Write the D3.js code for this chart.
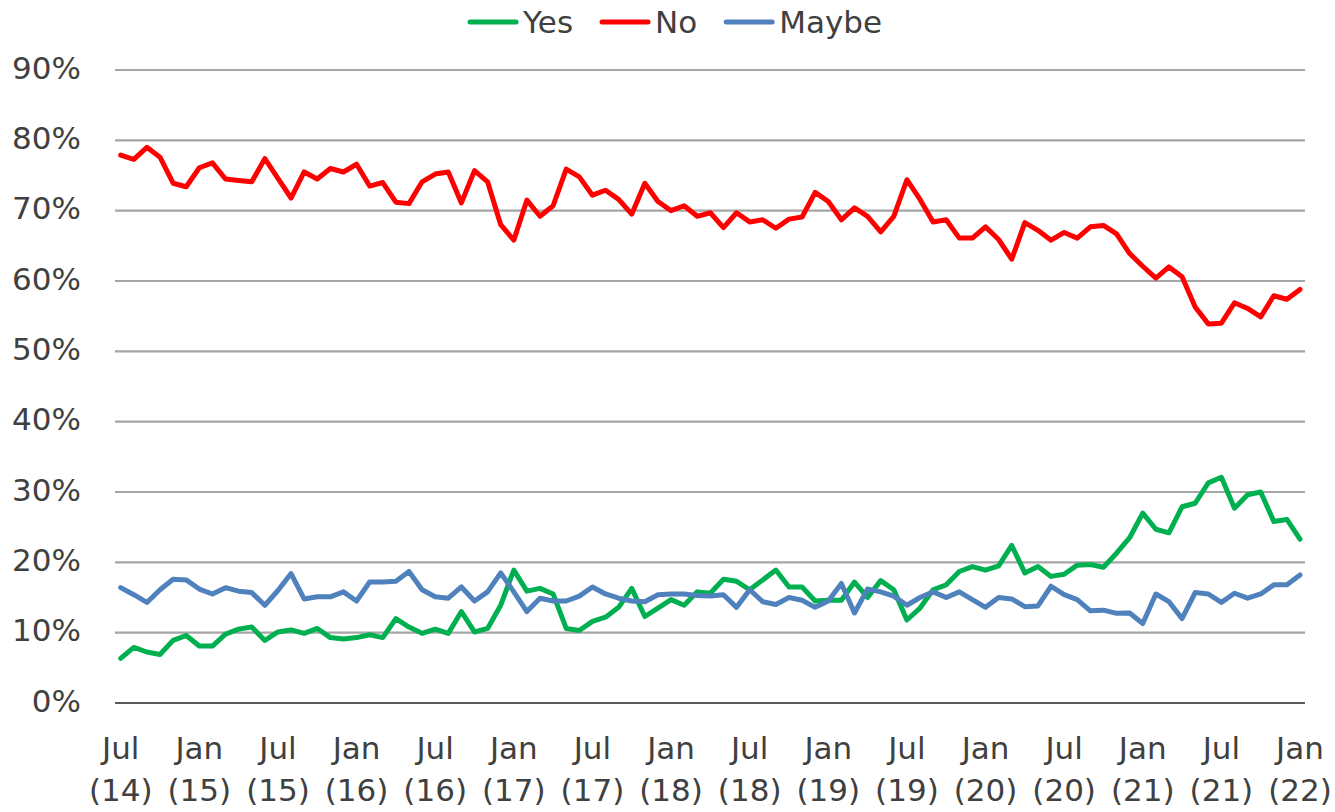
<!DOCTYPE html>
<html>
<head>
<meta charset="utf-8">
<script src="https://cdn.jsdelivr.net/npm/d3@7"></script>
<style>
  body { margin: 0; background: #fff; }
  text { font-family: "DejaVu Sans", Verdana, sans-serif; fill: #404040; }
</style>
</head>
<body>
<div id="chart"></div>
<script>
// monthly shares (%), Jul 2014 .. Jan 2022
var yes = [6.35, 7.9, 7.25, 6.9, 8.9, 9.6, 8.1, 8.1, 9.8, 10.5, 10.8, 8.9,
  10.1, 10.4, 9.9, 10.6, 9.3, 9.1, 9.3, 9.7, 9.3, 12.0, 10.8, 9.9,
  10.5, 9.9, 13.0, 10.1, 10.6, 13.9, 18.9, 15.9, 16.3, 15.5, 10.6, 10.3,
  11.6, 12.2, 13.6, 16.3, 12.3, 13.5, 14.7, 13.9, 15.8, 15.6, 17.6, 17.3,
  16.1, 17.5, 18.9, 16.5, 16.5, 14.5, 14.6, 14.6, 17.2, 15.0, 17.4, 16.1,
  11.8, 13.5, 16.1, 16.8, 18.7, 19.4, 18.9, 19.5, 22.4, 18.5, 19.4, 18.0,
  18.3, 19.6, 19.7, 19.3, 21.3, 23.5, 27.0, 24.7, 24.2, 27.9, 28.4, 31.3,
  32.1, 27.7, 29.6, 30.0, 25.8, 26.1, 23.3];

var no = [77.9, 77.3, 79.0, 77.6, 73.9, 73.4, 76.1, 76.8, 74.5, 74.3, 74.1, 77.4,
  74.6, 71.8, 75.5, 74.5, 76.0, 75.5, 76.6, 73.5, 74.0, 71.2, 71.0, 74.1,
  75.2, 75.5, 71.1, 75.7, 74.1, 68.0, 65.8, 71.5, 69.2, 70.7, 75.9, 74.8,
  72.2, 72.9, 71.6, 69.5, 73.9, 71.3, 70.0, 70.7, 69.2, 69.7, 67.6, 69.7,
  68.4, 68.7, 67.5, 68.8, 69.1, 72.6, 71.3, 68.7, 70.4, 69.2, 67.0, 69.2,
  74.4, 71.6, 68.4, 68.7, 66.1, 66.1, 67.7, 65.9, 63.1, 68.3, 67.2, 65.8,
  66.9, 66.1, 67.7, 67.9, 66.7, 63.9, 62.1, 60.4, 62.0, 60.6, 56.3, 53.9,
  54.0, 56.9, 56.1, 54.9, 57.9, 57.4, 58.8];

var maybe = [16.4, 15.4, 14.3, 16.1, 17.6, 17.5, 16.2, 15.5, 16.4, 15.9, 15.7, 13.9,
  16.0, 18.4, 14.8, 15.1, 15.1, 15.8, 14.5, 17.2, 17.2, 17.3, 18.7, 16.1,
  15.1, 14.9, 16.5, 14.5, 15.8, 18.5, 15.8, 13.0, 14.9, 14.5, 14.5, 15.2,
  16.5, 15.5, 14.9, 14.5, 14.4, 15.4, 15.5, 15.5, 15.3, 15.2, 15.4, 13.6,
  16.1, 14.4, 14.0, 15.0, 14.6, 13.6, 14.5, 17.0, 12.8, 16.2, 15.8, 15.2,
  13.9, 15.0, 15.8, 15.0, 15.8, 14.7, 13.6, 15.0, 14.8, 13.7, 13.8, 16.6,
  15.4, 14.7, 13.1, 13.2, 12.75, 12.8, 11.3, 15.5, 14.4, 12.0, 15.7, 15.5,
  14.3, 15.6, 14.9, 15.5, 16.8, 16.8, 18.2];

// x tick labels every 6 months
var tickMonths = ["Jul", "Jan", "Jul", "Jan", "Jul", "Jan", "Jul", "Jan", "Jul",
  "Jan", "Jul", "Jan", "Jul", "Jan", "Jul", "Jan"];
var tickYears = ["(14)", "(15)", "(15)", "(16)", "(16)", "(17)", "(17)", "(18)", "(18)",
  "(19)", "(19)", "(20)", "(20)", "(21)", "(21)", "(22)"];
var yTicks = [0, 10, 20, 30, 40, 50, 60, 70, 80, 90];

var series = [
  { name: "Yes", values: yes, color: "#00b050" },
  { name: "No", values: no, color: "#ff0000" },
  { name: "Maybe", values: maybe, color: "#4f81bd" }
];

var W = 1335, H = 812;
var svg = d3.select("#chart").append("svg").attr("width", W).attr("height", H);

var x = d3.scaleLinear().domain([0, yes.length - 1]).range([120.7, 1300]);
var y = d3.scaleLinear().domain([0, 90]).range([703, 70]);

// gridlines
svg.append("g").selectAll("line").data(yTicks).enter().append("line")
  .attr("x1", 115).attr("x2", 1305)
  .attr("y1", function (d) { return y(d); })
  .attr("y2", function (d) { return y(d); })
  .attr("stroke", function (d) { return d === 0 ? "#595959" : "#a6a6a6"; })
  .attr("stroke-width", 2.2);

// y labels
svg.append("g").selectAll("text").data(yTicks).enter().append("text")
  .attr("x", 81).attr("y", function (d) { return y(d) + 8.5; })
  .attr("text-anchor", "end")
  .style("font-size", "31px")
  .text(function (d) { return d + "%"; });

// x labels
var xl = svg.append("g").selectAll("text").data(tickMonths).enter().append("text")
  .attr("text-anchor", "middle")
  .style("font-size", "31px")
  .attr("transform", function (d, i) { return "translate(" + x(i * 6) + ",0)"; });
xl.append("tspan").attr("x", 0).attr("y", 759).text(function (d) { return d; });
xl.append("tspan").attr("x", 0).attr("y", 801).text(function (d, i) { return tickYears[i]; });

// lines
var line = d3.line()
  .x(function (d, i) { return x(i); })
  .y(function (d) { return y(d); });

svg.append("g").selectAll("path").data(series).enter().append("path")
  .attr("d", function (s) { return line(s.values); })
  .attr("fill", "none")
  .attr("stroke", function (s) { return s.color; })
  .attr("stroke-width", 5)
  .attr("stroke-linejoin", "round")
  .attr("stroke-linecap", "round");

// legend
var lg = svg.append("g").attr("transform", "translate(468,22)");
var lx = 0;
series.forEach(function (s) {
  lg.append("line")
    .attr("x1", lx + 2).attr("x2", lx + 48).attr("y1", 0).attr("y2", 0)
    .attr("stroke", s.color).attr("stroke-width", 5).attr("stroke-linecap", "round");
  var t = lg.append("text")
    .attr("x", lx + 55).attr("y", 11)
    .style("font-size", "31px")
    .text(s.name);
  lx += 55 + t.node().getComputedTextLength() + 27;
});
</script>
</body>
</html>
